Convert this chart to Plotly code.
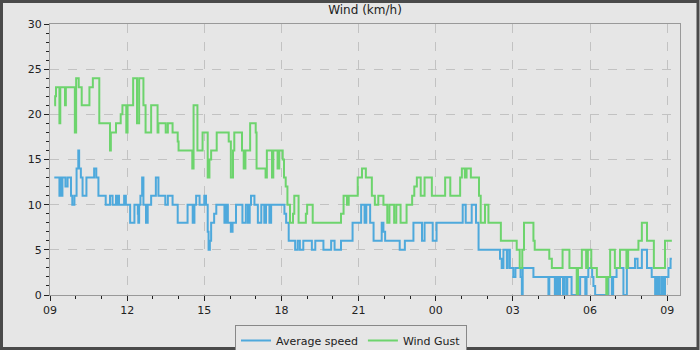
import pandas as pd
import plotly.graph_objects as go

# ---- data (change points, step chart) ----
avg_times = ["09:10","09:22","09:24","09:26","09:29","09:36","09:41","09:49","09:52","09:57",
             "10:02","10:06","10:08","10:12","10:16","10:25","10:43","10:48","10:53","11:10",
             "11:20","11:26","11:34","11:36","11:39","11:41","11:53","11:57","12:07","12:17",
             "12:25","12:26","12:28","12:31","12:35","12:38","12:44","12:48","12:56","13:07",
             "13:13","13:29","13:35","13:46","13:58","14:21","14:33","14:37","14:41","14:49",
             "15:00","15:04","15:08","15:10","15:13","15:16","15:23","15:28","15:47","15:51",
             "15:55","16:02","16:06","16:14","16:29","16:37","16:42","16:46","16:49","16:57",
             "17:05","17:13","17:20","17:24","17:32","17:36","18:07","18:11","18:17","18:32",
             "18:38","18:43","18:51","19:11","19:19","19:38","19:56","20:04","20:19","20:46",
             "21:06","21:14","21:18","21:27","21:35","21:54","21:58","22:02","22:36","22:48",
             "23:08","23:28","23:34","23:53","00:02","01:03","01:10","01:24","01:34","01:40",
             "02:30","02:34","02:38","02:46","02:48","02:53","03:01","03:06","03:18","03:21",
             "03:23","03:48","04:23","04:25","04:38","04:42","04:46","04:50","04:57","05:00",
             "05:05","05:07","05:17","05:37","05:49","05:52","05:56","06:05","06:08","06:12",
             "06:43","06:51","06:54","07:02","07:18","07:26","07:45","07:51","08:01","08:13",
             "08:24","08:32","08:35","08:37","08:41","08:43","08:48","08:51","08:55","09:03",
             "09:08","09:11"]
avg_speed = [13,11,13,11,13,12,13,11,10,11,
             14,16,14,13,11,13,14,13,11,10,
             11,10,11,10,11,10,11,10,8,10,
             9,8,10,11,13,10,8,10,11,13,
             11,10,11,10,8,10,8,10,11,10,
             11,10,7,5,6,8,9,10,8,10,
             8,7,8,10,8,10,8,10,11,10,
             8,10,8,10,8,10,9,8,6,5,
             6,5,6,5,6,5,6,5,6,8,
             10,8,10,8,6,8,7,6,5,6,
             8,6,8,6,8,10,8,10,8,5,
             4,3,5,3,5,3,2,3,2,0,
             3,2,0,2,0,2,0,2,0,2,
             0,2,0,2,0,2,3,2,1,0,
             2,0,2,3,0,3,4,3,5,3,
             2,0,2,0,2,0,2,0,2,3,
             4,4]

gust_times = ["09:10","09:12","09:14","09:22","09:24","09:35","09:37","09:58","10:01","10:07",
              "10:14","10:32","10:40","10:55","11:20","11:22","11:34","11:45","11:49","11:58",
              "12:01","12:14","12:23","12:28","12:38","12:43","12:56","13:11","13:13","13:30",
              "13:35","13:46","13:58","14:00","14:32","14:35","14:44","14:56","15:08","15:12",
              "15:16","15:29","15:57","16:02","16:07","16:10","16:28","16:32","16:36","16:47",
              "17:00","17:02","17:23","17:26","17:38","17:41","17:51","17:55","18:03","18:06",
              "18:10","18:14","18:20","18:27","18:30","18:40","18:57","19:00","19:13","20:19",
              "20:25","20:33","20:37","20:58","21:08","21:17","21:31","21:38","21:46","21:58",
              "22:07","22:12","22:23","22:28","22:38","22:52","23:05","23:10","23:16","23:25",
              "23:34","23:51","00:22","00:34","00:57","01:01","01:08","01:12","01:22","01:41",
              "01:45","01:55","02:03","02:32","03:09","03:16","03:22","03:26","03:48","03:51",
              "04:25","04:31","04:56","05:12","05:29","05:32","05:41","05:51","05:55","06:03",
              "06:16","06:38","06:41","06:47","06:58","07:10","07:25","07:29","07:53","08:01",
              "08:13","08:29","08:55","09:11"]
wind_gust = [21,22,23,19,23,21,23,18,24,23,
             21,23,24,19,16,18,19,20,21,18,
             21,24,19,24,21,18,21,18,19,18,
             19,18,17,16,14,21,16,18,13,15,
             16,18,17,13,16,18,16,14,16,19,
             18,14,13,16,13,16,14,16,15,13,
             12,10,8,9,11,8,9,10,8,9,
             11,10,11,13,14,13,11,10,11,10,
             8,10,8,10,8,10,11,12,13,11,
             13,11,13,11,13,14,13,14,13,11,
             8,10,8,6,5,3,5,8,6,5,
             4,3,5,3,0,3,5,3,5,3,
             2,0,2,5,3,5,3,5,6,8,
             6,3,6,6]

y_ticks = [0, 5, 10, 15, 20, 25, 30]

BASE = pd.Timestamp("2024-01-01")


def to_datetimes(times):
    out, day, prev = [], 0, None
    for t in times:
        hh, mm = map(int, t.split(":"))
        m = hh * 60 + mm
        if prev is not None and m < prev:
            day += 1
        prev = m
        out.append(BASE + pd.Timedelta(days=day, minutes=m))
    return out


FONT = "DejaVu Sans"
BG = "#e6e6e6"

fig = go.Figure()
fig.add_trace(go.Scatter(x=to_datetimes(avg_times), y=avg_speed, mode="lines",
                         line=dict(color="#4ea9dc", width=2, shape="hv"),
                         name="Average speed"))
fig.add_trace(go.Scatter(x=to_datetimes(gust_times), y=wind_gust, mode="lines",
                         line=dict(color="#6dd46d", width=2, shape="hv"),
                         name="Wind Gust"))

L, R, T, B = 50, 20, 24, 55
W, H = 700, 350
pw, ph = W - L - R, H - T - B

fig.update_layout(
    width=W, height=H,
    margin=dict(l=L, r=R, t=T, b=B, autoexpand=False),
    paper_bgcolor=BG, plot_bgcolor=BG,
    font=dict(family=FONT, size=11, color="#222"),
    title=dict(text="Wind (km/h)", x=0.5, xanchor="center", xref="paper",
               yref="container", y=1 - 10 / H, yanchor="middle",
               pad=dict(t=0, b=0),
               font=dict(family=FONT, size=12, color="#222")),
    showlegend=True,
    legend=dict(orientation="h", x=(351 - L) / pw, xanchor="center", y=(0 - 30) / ph, yanchor="top",
                bgcolor=BG, bordercolor="#888", borderwidth=1,
                font=dict(family=FONT, size=11, color="#222"), itemwidth=30),
    xaxis=dict(type="date",
               range=[BASE + pd.Timedelta(hours=9), BASE + pd.Timedelta(days=1, hours=9, minutes=30)],
               tick0=BASE + pd.Timedelta(hours=9), dtick=3 * 3600 * 1000, tickformat="%H",
               ticks="outside", ticklen=5, tickcolor="#222",
               showline=True, linecolor="#999", linewidth=1, mirror=True,
               showgrid=True, gridcolor="#c2c2c2", griddash="dash", gridwidth=1,
               zeroline=False,
               minor=dict(dtick=3600 * 1000, ticks="outside", ticklen=3, tickcolor="#222", showgrid=False),
               tickfont=dict(family=FONT, size=11, color="#222")),
    yaxis=dict(range=[0, 30], tickvals=y_ticks,
               ticks="outside", ticklen=5, tickcolor="#222",
               showline=True, linecolor="#999", linewidth=1, mirror=True,
               showgrid=True, gridcolor="#c2c2c2", griddash="dash", gridwidth=1,
               zeroline=False,
               minor=dict(dtick=1, ticks="outside", ticklen=3, tickcolor="#222", showgrid=False),
               tickfont=dict(family=FONT, size=11, color="#222")),
)

# outer frame around whole chart
fig.add_shape(type="rect", xref="paper", yref="paper",
              x0=(1.5 - L) / pw, x1=(W - 2 - L) / pw,
              y0=(-(H - T - ph) + 1.5) / ph, y1=(ph + T - 1.5) / ph,
              line=dict(color="#4a4a4a", width=3), fillcolor="rgba(0,0,0,0)", layer="above")

fig.write_html("out.html", config={"displayModeBar": False},
               post_script="document.body.style.margin='0';")
